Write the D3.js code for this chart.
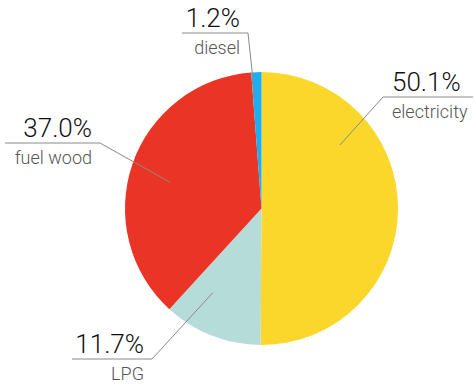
<!DOCTYPE html>
<html>
<head>
<meta charset="utf-8">
<script src="https://cdn.jsdelivr.net/npm/d3@7"></script>
<style>
  body { margin: 0; background: #fff; }
  svg { display: block; }
  .pct { font-family: Roboto, "Liberation Sans", sans-serif; font-weight: 300; font-size: 26px; fill: #111; }
  .lbl { font-family: Roboto, "Liberation Sans", sans-serif; font-weight: 300; font-size: 18px; fill: #555; }
</style>
</head>
<body>
<svg width="475" height="389"></svg>
<script>
// chart data
var categories = ["electricity", "LPG", "fuel wood", "diesel"];
var values = [50.1, 11.7, 37.0, 1.2];
var pctLabels = ["50.1%", "11.7%", "37.0%", "1.2%"];
var colors = ["#fbd72b", "#b6dcda", "#ea3526", "#1aaff0"];

// callout layout: point inside slice (angle deg, radius), elbow, end of underline
var callouts = {
  "electricity": { angle: 51, r: 101, ex: 383, ey: 97, end: 473, side: "right" },
  "LPG": { angle: 210, r: 97, ex: 152, ey: 359, end: 72, side: "left" },
  "fuel wood": { angle: 286, r: 95, ex: 100, ey: 143, end: 5, side: "left" },
  "diesel": { angle: 356.6, r: 111, ex: 248, ey: 33, end: 182, side: "left" }
};

var svg = d3.select("svg");
var cx = 261.5, cy = 208.5, radius = 136.5;

var data = categories.map(function(c, i) {
  return { name: c, value: values[i], pct: pctLabels[i], color: colors[i] };
});

var pie = d3.pie().sort(null).value(function(d) { return d.value; });
var arc = d3.arc().innerRadius(0).outerRadius(radius);

var g = svg.append("g")
  .attr("transform", "translate(" + cx + "," + cy + ")");

g.selectAll("path.slice")
  .data(pie(data))
  .enter().append("path")
    .attr("class", "slice")
    .attr("d", arc)
    .attr("fill", function(d) { return d.data.color; });

// leader lines + text
data.forEach(function(d) {
  var c = callouts[d.name];
  var a = c.angle * Math.PI / 180;
  var px = cx + Math.sin(a) * c.r,
      py = cy - Math.cos(a) * c.r;

  svg.append("polyline")
    .attr("points", [[px, py], [c.ex, c.ey], [c.end, c.ey]].map(function(p) { return p.join(","); }).join(" "))
    .attr("fill", "none")
    .attr("stroke", "#8a8a8a")
    .attr("stroke-width", 1);

  var right = c.side === "right";
  var tx = right ? c.ex + 9 : c.ex - 8;
  var anchor = right ? "start" : "end";

  svg.append("text")
    .attr("class", "pct")
    .attr("x", tx)
    .attr("y", c.ey - 6)
    .attr("text-anchor", anchor)
    .text(d.pct);

  svg.append("text")
    .attr("class", "lbl")
    .attr("x", tx)
    .attr("y", c.ey + 21)
    .attr("text-anchor", anchor)
    .text(d.name);
});
</script>
</body>
</html>
